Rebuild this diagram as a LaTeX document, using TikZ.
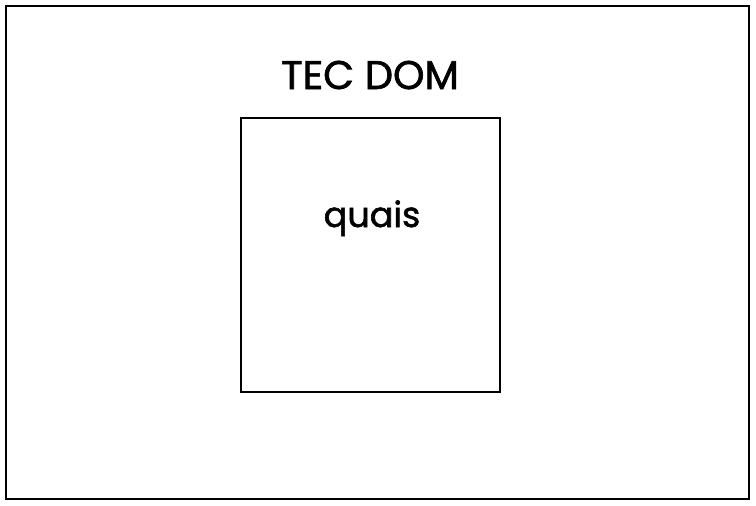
\documentclass[tikz,border=0pt]{standalone}
\usepackage{fontspec}
\setmainfont{Poppins}[BoldFont=Poppins,BoldFeatures={FakeBold=1.6}]
\begin{document}
\begin{tikzpicture}[x=1pt,y=-1pt,
  boxstyle/.style={draw=black,line width=1.4pt},
  lbl/.style={anchor=base,inner sep=0pt,text=black}]
\useasboundingbox (0,0) rectangle (756,506);
\draw[boxstyle] (6,6) rectangle (749,499);
\node[lbl,font=\fontsize{40}{46}\selectfont\bfseries] (title) at (370,89) {TEC DOM};
\draw[boxstyle] (241,118) rectangle (500,392);
\node[lbl,font=\fontsize{35}{41}\selectfont\bfseries] (quais) at (372,227) {quais};
\end{tikzpicture}
\end{document}
